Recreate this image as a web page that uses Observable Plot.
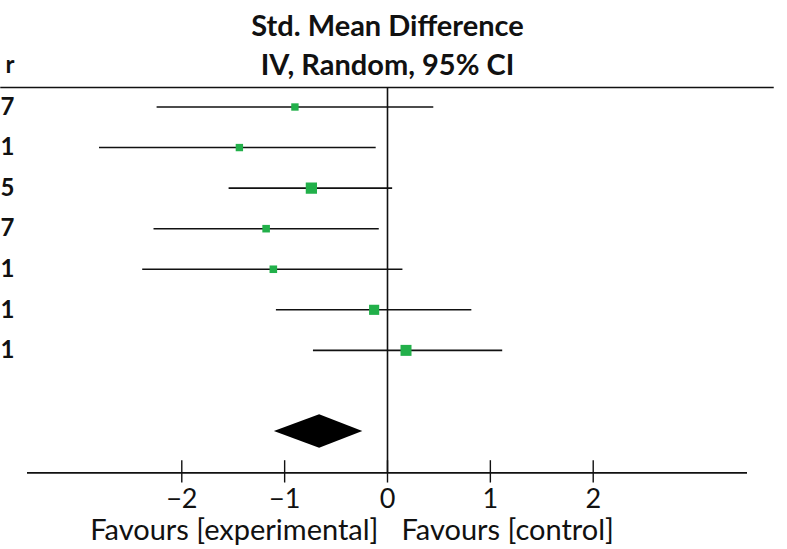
<!DOCTYPE html>
<html>
<head>
<meta charset="utf-8">
<script src="https://cdn.jsdelivr.net/npm/d3@7"></script>
<script src="https://cdn.jsdelivr.net/npm/@observablehq/plot@0.6"></script>
<style>
  html, body { margin: 0; padding: 0; background: #fff; }
  #chart svg { display: block; }
</style>
</head>
<body>
<div id="chart"></div>
<script>
// ---- data ----
const rowLabelTails = ["7", "1", "5", "7", "1", "1", "1"];   // visible tails of the study labels
const headerTail = "r";
const smd    = [-0.90, -1.44, -0.74, -1.18, -1.11, -0.13, 0.18];
const ciLow  = [-2.24, -2.80, -1.54, -2.27, -2.38, -1.08, -0.72];
const ciHigh = [ 0.45, -0.11,  0.05, -0.08,  0.15,  0.82,  1.12];
const weight = [ 9, 9, 21, 9.5, 9.5, 17, 20];
const pooledEst = -0.66, pooledLow = -1.10, pooledHigh = -0.24;
const tickValues = [-2, -1, 0, 1, 2];
const titleLines = ["Std. Mean Difference", "IV, Random, 95% CI"];
const favoursLabels = ["Favours [experimental]", "Favours [control]"];

// ---- layout (row units on the y scale) ----
const pooledRow = 8;
const headerY = -0.48;
const axisY = 9.02;
const titleY = [-1.97, -1.03];
const diamondHalf = 0.41;
const headerExtent = 3.76;

const rows = smd.map((v, i) => ({row: i, est: v, lo: ciLow[i], hi: ciHigh[i], w: weight[i], label: rowLabelTails[i]}));
const diamond = [
  {x: pooledLow,  y1: pooledRow, y2: pooledRow},
  {x: pooledEst,  y1: pooledRow - diamondHalf, y2: pooledRow + diamondHalf},
  {x: pooledHigh, y1: pooledRow, y2: pooledRow}
];
const fmt = d => (d < 0 ? "\u2212" : "") + Math.abs(d);
const green = "#22b04a";
const font = "Lato";

const chart = Plot.plot({
  width: 787,
  height: 549,
  marginLeft: 27,
  marginRight: 40,
  marginTop: 0,
  marginBottom: 76.5,
  style: {fontFamily: font, color: "#111", background: "#fff"},
  x: {domain: [-3.5, 3.5]},
  y: {domain: [0, pooledRow], range: [106.5, 431], axis: null},
  r: {domain: [0, 20], range: [0, 6.2]},
  marks: [
    // header separator
    Plot.ruleY([headerY], {x1: -headerExtent, x2: headerExtent, stroke: "#111", strokeWidth: 1.6}),
    // line of no effect
    Plot.ruleX([0], {y1: headerY, y2: axisY, stroke: "#111", strokeWidth: 1.6}),
    // axis line and ticks
    Plot.ruleY([axisY], {stroke: "#111", strokeWidth: 1.6}),
    Plot.ruleX(tickValues, {x: d => d, y1: axisY - 0.3, y2: axisY + 0.25, stroke: "#111", strokeWidth: 1.4}),
    Plot.axisX({ticks: tickValues, tickSize: 0, tickPadding: 16, tickFormat: fmt, fontSize: 27, label: null, stroke: "none"}),
    // CIs
    Plot.ruleY(rows, {y: "row", x1: "lo", x2: "hi", stroke: "#111", strokeWidth: 1.6}),
    Plot.dot(rows, {x: "est", y: "row", r: "w", symbol: "square", fill: green, stroke: "none"}),
    // pooled diamond
    Plot.areaY(diamond, {x: "x", y1: "y1", y2: "y2", fill: "#000"}),
    // titles
    Plot.text(titleLines, {x: 0, y: (d, i) => titleY[i], text: d => d, fontSize: 29, fontWeight: 700, fill: "#111"}),
    // row label tails (rest of the table is cropped off)
    Plot.text(rows, {frameAnchor: "left", y: "row", text: "label", textAnchor: "end", dx: -13, fontSize: 24, fontWeight: 700, fill: "#111"}),
    Plot.text([headerTail], {frameAnchor: "left", y: titleY[1], text: d => d, textAnchor: "end", dx: -13, fontSize: 24, fontWeight: 700, fill: "#111"}),
    // favours labels
    Plot.text([favoursLabels[0]], {x: 0, y: axisY, text: d => d, textAnchor: "end", dx: -9, dy: 58, fontSize: 29, fill: "#111"}),
    Plot.text([favoursLabels[1]], {x: 0, y: axisY, text: d => d, textAnchor: "start", dx: 14, dy: 58, fontSize: 29, fill: "#111"})
  ]
});
document.getElementById("chart").append(chart);
</script>
</body>
</html>
